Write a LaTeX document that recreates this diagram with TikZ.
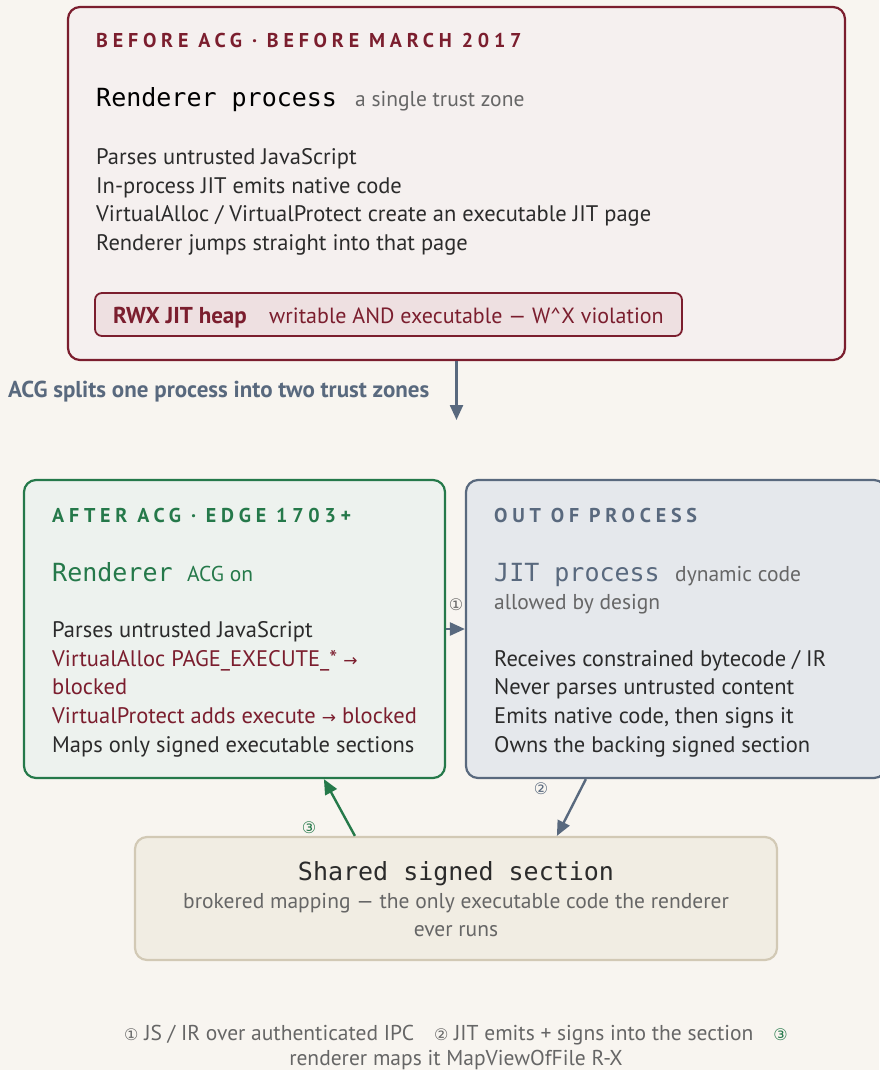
\documentclass[tikz,border=0pt]{standalone}
\usepackage{fontspec}
\setmainfont{PT Sans}
\newfontfamily\codefont{DejaVu Sans Mono}
\newfontfamily\capsfont[LetterSpace=24]{PT Sans}
\newfontfamily\symfont{DejaVu Sans}
\usetikzlibrary{arrows.meta}

\definecolor{bg}{HTML}{F8F5F0}
\definecolor{wine}{HTML}{7B1E2E}
\definecolor{winefill}{HTML}{F5F0EF}
\definecolor{heapfill}{HTML}{EEE0E1}
\definecolor{leaf}{HTML}{25794A}
\definecolor{leaffill}{HTML}{EDF2EE}
\definecolor{slate}{HTML}{59697E}
\definecolor{slatefill}{HTML}{E5E8EC}
\definecolor{sand}{HTML}{D2C9B5}
\definecolor{sandfill}{HTML}{F1EDE3}
\definecolor{ink}{HTML}{2B2B2B}
\definecolor{mute}{HTML}{666666}

\tikzset{
  zone/.style={draw, line width=2.2pt, rounded corners=12pt, inner sep=0pt},
  txt/.style={anchor=base west, inner sep=0pt, text=ink, font=\fontsize{22.5}{26}\selectfont},
  head/.style={anchor=base west, inner sep=0pt, font=\capsfont\bfseries\fontsize{20}{24}\selectfont},
  code/.style={anchor=base west, inner sep=0pt, font=\codefont\fontsize{25}{28}\selectfont},
  note/.style={anchor=base west, inner sep=0pt, text=mute, font=\fontsize{21.5}{24}\selectfont},
  num/.style={inner sep=0pt, font=\symfont\fontsize{16}{17}\selectfont},
  flow/.style={line width=2.4pt, -{Triangle[length=15pt,width=13pt]}},
}
\newcommand{\arr}{{\symfont\fontsize{17}{18}\selectfont→}}
\newcommand{\circnum}[1]{{\symfont\fontsize{16}{17}\selectfont #1}}

\begin{document}
\begin{tikzpicture}[x=1pt, y=-1pt]
  \useasboundingbox (0,0) rectangle (879,1070);
  \fill[bg] (0,0) rectangle (879,1070);

  % riquadri
  \node[zone, draw=wine, fill=winefill, minimum width=777pt, minimum height=353pt] (before) at (456.5,183.5) {};
  \node[zone, draw=wine, fill=heapfill, line width=1.8pt, rounded corners=7pt,
        minimum width=587pt, minimum height=43pt] (heap) at (388.5,314.5) {};
  \node[zone, draw=leaf, fill=leaffill, minimum width=421pt, minimum height=298pt] (after) at (234.5,629) {};
  \node[zone, draw=slate, fill=slatefill, minimum width=420pt, minimum height=298pt] (jit) at (676,629) {};
  \node[zone, draw=sand, fill=sandfill, minimum width=642pt, minimum height=123pt] (shared) at (456,898.5) {};

  % prima di ACG
  \node[head, text=wine] (beforehead) at (96,48) {BEFORE ACG · BEFORE MARCH 2017};
  \node[code] (beforetitle) at (96,107) {Renderer process};
  \node[note] (beforenote) at (355,107) {a single trust zone};
  \node[txt] (b1) at (96,164) {Parses untrusted JavaScript};
  \node[txt] (b2) at (96,193) {In-process JIT emits native code};
  \node[txt] (b3) at (96,221) {VirtualAlloc / VirtualProtect create an executable JIT page};
  \node[txt] (b4) at (96,250) {Renderer jumps straight into that page};
  \node[txt, text=wine, font=\bfseries\fontsize{23}{26}\selectfont] (heaptitle) at (113,323) {RWX JIT heap};
  \node[txt, text=wine, font=\fontsize{22}{26}\selectfont] (heapnote) at (269,323) {writable AND executable — W\textasciicircum X violation};

  % passaggio
  \coordinate (split) at (456.5,420);
  \draw[flow, slate] (before.south) -- (split);
  \node[txt, text=slate, font=\bfseries\fontsize{23}{26}\selectfont] (splitlabel) at (8,397) {ACG splits one process into two trust zones};

  % renderer con ACG
  \node[head, text=leaf] (afterhead) at (52,522) {AFTER ACG · EDGE 1703+};
  \node[code, text=leaf] (aftertitle) at (52,581) {Renderer};
  \node[note, text=leaf] (afternote) at (187,581) {ACG on};
  \node[txt] (a1) at (52,637) {Parses untrusted JavaScript};
  \node[txt, text=wine] (a2) at (52,666) {VirtualAlloc PAGE\_EXECUTE\_* \arr};
  \node[txt, text=wine] (a3) at (52,694) {blocked};
  \node[txt, text=wine] (a4) at (52,723) {VirtualProtect adds execute \arr{} blocked};
  \node[txt] (a5) at (52,752) {Maps only signed executable sections};

  % processo JIT
  \node[head, text=slate] (jithead) at (494,522) {OUT OF PROCESS};
  \node[code, text=slate] (jittitle) at (494,581) {JIT process};
  \node[note] (jitnote) at (675,581) {dynamic code};
  \node[note] (jitnote2) at (494,609) {allowed by design};
  \node[txt] (j1) at (494,666) {Receives constrained bytecode / IR};
  \node[txt] (j2) at (494,694) {Never parses untrusted content};
  \node[txt] (j3) at (494,723) {Emits native code, then signs it};
  \node[txt] (j4) at (494,752) {Owns the backing signed section};

  % sezione condivisa
  \node[code, anchor=base, text=ink] (sharedtitle) at (456,880) {Shared signed section};
  \node[note, anchor=base] (sharednote) at (456,908) {brokered mapping — the only executable code the renderer};
  \node[note, anchor=base] (sharednote2) at (456,936) {ever runs};

  % frecce numerate
  \draw[flow, slate] (after.east) -- (jit.west);
  \draw[flow, slate] ([xshift=121pt]jit.south west) -- ([xshift=423pt]shared.north west);
  \draw[flow, leaf] ([xshift=221pt]shared.north west) -- ([xshift=301pt]after.south west);
  \node[num, text=mute] (n1) at (456,605) {①};
  \node[num, text=slate] (n2) at (541,789) {②};
  \node[num, text=leaf] (n3) at (309,828) {③};

  % legenda
  \node[note, anchor=base] (legend1) at (456,1040)
    {\circnum{①} JS / IR over authenticated IPC\hspace{20pt}\circnum{②} JIT emits + signs into the section\hspace{20pt}{\color{leaf}\circnum{③}}};
  \node[note, anchor=base] (legend2) at (456,1065) {renderer maps it MapViewOfFile R-X};
\end{tikzpicture}
\end{document}
